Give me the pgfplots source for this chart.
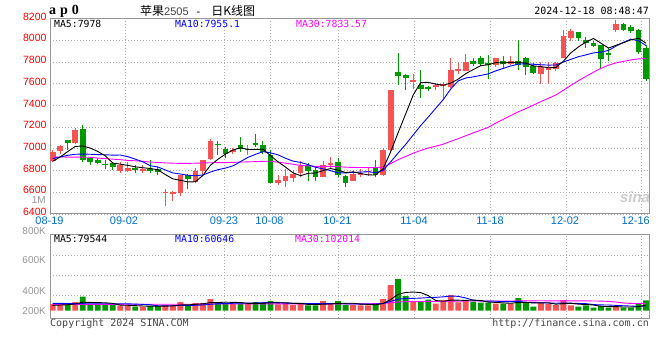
\documentclass[border=0pt]{standalone}
\usepackage{pgfplots}
\pgfplotsset{compat=1.18}
\usepackage{pgfplotstable}
\usepackage{fontspec}
\setmainfont{Liberation Sans}
\newfontfamily\mono{DejaVu Sans Mono}
\newfontfamily\cjk{Noto Sans CJK SC}
\newfontfamily\serifb{Liberation Serif}
\definecolor{cred}{RGB}{246,84,84}
\definecolor{cgreen}{RGB}{0,153,0}
\definecolor{xlab}{RGB}{0,110,200}
\definecolor{gridc}{RGB}{175,175,175}
\definecolor{axc}{RGB}{150,150,150}
\definecolor{ma10}{RGB}{0,0,255}
\definecolor{ma30}{RGB}{255,0,255}
\definecolor{vlab}{RGB}{150,150,150}
\definecolor{copyc}{RGB}{70,70,70}
\newcommand\fs[1]{\fontsize{#1}{#1}\selectfont}
% up candle: idx, open, high, low, close
\newcommand\cu[5]{\addplot[cred, line width=1bp] coordinates {(#1,#4) (#1,#3)};
  \addplot[cred, line width=5.7bp] coordinates {(#1,#2) (#1,#5)};}
% down candle: idx, open, high, low, close
\newcommand\cd[5]{\addplot[cgreen, line width=1bp] coordinates {(#1,#4) (#1,#3)};
  \addplot[cgreen, line width=5.7bp] coordinates {(#1,#2) (#1,#5)};}

\pgfplotstableread{
i m5 m10 m30
0 6885 6910 6925
1 6925 6925 6925
2 6975 6940 6924
3 7022 6950 6924
4 7026 6952 6923
5 7007 6950 6922
6 6976 6947 6915
7 6936 6945 6910
8 6869 6942 6905
9 6859 6943 6900
10 6848 6928 6893
11 6834 6905 6890
12 6826 6881 6885
13 6819 6844 6878
14 6807 6833 6875
15 6763 6805 6870
16 6723 6778 6868
17 6711 6768 6866
18 6695 6757 6866
19 6697 6752 6868
20 6755 6759 6870
21 6849 6786 6872
22 6904 6808 6873
23 6951 6823 6873
24 6989 6843 6875
25 7010 6882 6878
26 6994 6922 6880
27 6994 6949 6882
28 6997 6974 6885
29 6937 6963 6886
30 6881 6945 6877
31 6832 6913 6868
32 6779 6887 6858
33 6753 6875 6847
34 6774 6855 6844
35 6778 6830 6839
36 6799 6816 6839
37 6819 6799 6839
38 6803 6778 6836
39 6782 6778 6831
40 6788 6783 6829
41 6773 6786 6828
42 6760 6789 6828
43 6759 6781 6826
44 6818 6800 6833
45 6972 6880 6864
46 7150 6962 6900
47 7321 7041 6930
48 7496 7128 6960
49 7610 7214 6985
50 7612 7292 7007
51 7596 7373 7024
52 7585 7453 7043
53 7605 7551 7069
54 7642 7626 7094
55 7692 7652 7121
56 7730 7663 7147
57 7766 7676 7172
58 7774 7690 7198
59 7794 7718 7237
60 7791 7741 7272
61 7796 7763 7307
62 7794 7780 7341
63 7791 7783 7371
64 7763 7779 7402
65 7758 7774 7435
66 7746 7771 7465
67 7749 7772 7496
68 7807 7799 7539
69 7884 7824 7585
70 7938 7848 7627
71 7983 7865 7667
72 8016 7883 7705
73 7973 7890 7741
74 7928 7906 7770
75 7953 7946 7791
76 7977 7980 7805
77 8004 8010 7819
78 8018 7995 7828
79 7973 7951 7831
}\maintab

\pgfplotstableread{
i v5 v10 v30
0 80 110 95
1 85 110 95
2 90 108 95
3 100 106 95
4 127 105 95
5 124 105 95
6 121 105 95
7 119 105 95
8 110 105 95
9 83 105 95
10 81 103 97
11 76 99 97
12 71 95 97
13 68 89 97
14 67 75 97
15 68 75 97
16 72 74 97
17 86 79 97
18 87 78 97
19 96 82 97
20 103 86 100
21 122 97 100
22 122 104 100
23 128 108 100
24 125 111 100
25 123 113 100
26 109 116 100
27 109 116 100
28 111 120 101
29 120 123 103
30 118 121 103
31 120 115 103
32 111 110 103
33 108 110 102
34 95 108 98
35 92 105 98
36 98 109 100
37 101 106 100
38 110 109 102
39 111 103 102
40 112 102 103
41 99 99 103
42 95 98 104
43 89 100 106
44 107 109 109
45 167 140 119
46 246 173 132
47 274 185 135
48 280 185 138
49 271 189 138
50 227 197 140
51 153 200 138
52 141 208 139
53 159 220 143
54 158 215 144
55 154 191 145
56 160 157 146
57 152 147 146
58 129 144 146
59 125 142 145
60 117 136 145
61 111 136 145
62 125 139 148
63 125 127 149
64 116 121 148
65 119 118 149
66 119 115 148
67 98 112 148
68 106 116 148
69 110 113 148
70 98 109 147
71 93 106 147
72 85 92 146
73 67 87 144
74 60 85 140
75 62 80 130
76 55 74 115
77 55 70 109
78 61 64 108
79 83 72 109
}\voltab

\begin{document}
\begin{tikzpicture}
\useasboundingbox (0,0) rectangle (660bp,360bp);
\begin{axis}[
  at={(50bp,146bp)}, anchor=south west, scale only axis,
  width=599.3bp, height=195.5bp,
  xmin=-0.36, xmax=79.44, ymin=6400, ymax=8200,
  axis line style={axc, line width=1bp},
  xtick={9.67,22.85,28.93,38.03,48.15,58.32,68.35,78.4}, xticklabels={},
  ytick={6400,6600,6800,7000,7200,7400,7600,7800,8000,8200},
  yticklabels={6400,6600,6800,7000,7200,7400,7600,7800,8000,8200},
  yticklabel style={text=red, font=\fs{10.5bp}, yshift=2bp},
  major tick length=0pt,
  xmajorgrids, ymajorgrids,
  grid style={gridc, line width=0.8bp, dash pattern=on 1bp off 2bp},
]
\cu{0}{6885}{6990}{6875}{6975}
\cu{1}{6980}{7035}{6955}{7030}
\cd{2}{7083}{7085}{6990}{7056}
\cu{3}{7050}{7190}{7045}{7173}
\cd{4}{7178}{7222}{6880}{6898}
\cd{5}{6914}{6918}{6848}{6880}
\cd{6}{6893}{6915}{6857}{6872}
\cd{7}{6864}{6893}{6815}{6856}
\cd{8}{6872}{6878}{6803}{6836}
\cu{9}{6794}{6878}{6779}{6848}
\cu{10}{6795}{6878}{6785}{6824}
\cd{11}{6827}{6848}{6773}{6803}
\cu{12}{6795}{6850}{6780}{6818}
\cd{13}{6815}{6898}{6775}{6800}
\cd{14}{6815}{6835}{6755}{6790}
\cu{15}{6596}{6630}{6477}{6605}
\cu{16}{6588}{6615}{6523}{6603}
\cu{17}{6594}{6762}{6562}{6759}
\cd{18}{6759}{6765}{6633}{6720}
\cu{19}{6698}{6820}{6690}{6800}
\cu{20}{6797}{6898}{6752}{6893}
\cu{21}{6902}{7090}{6893}{7074}
\cd{22}{7044}{7075}{6944}{7034}
\cd{23}{7002}{7020}{6915}{6955}
\cu{24}{6970}{7005}{6953}{6990}
\cd{25}{7038}{7110}{6969}{6996}
\cu{26}{6985}{7038}{6944}{6995}
\cd{27}{7050}{7140}{7020}{7034}
\cd{28}{7038}{7068}{6950}{6970}
\cd{29}{6944}{6990}{6685}{6690}
\cu{30}{6690}{6755}{6671}{6716}
\cu{31}{6704}{6812}{6653}{6752}
\cu{32}{6728}{6805}{6698}{6767}
\cu{33}{6775}{6886}{6740}{6840}
\cd{34}{6852}{6871}{6701}{6794}
\cd{35}{6806}{6837}{6701}{6738}
\cu{36}{6745}{6892}{6740}{6855}
\cu{37}{6855}{6929}{6815}{6866}
\cd{38}{6883}{6911}{6738}{6760}
\cd{39}{6754}{6763}{6646}{6690}
\cu{40}{6708}{6794}{6705}{6769}
\cu{41}{6763}{6815}{6738}{6782}
\cu{42}{6785}{6831}{6754}{6800}
\cd{43}{6831}{6900}{6738}{6755}
\cu{44}{6763}{7006}{6750}{6985}
\cu{45}{6985}{7540}{6980}{7538}
\cd{46}{7708}{7883}{7591}{7671}
\cd{47}{7677}{7690}{7538}{7655}
\cu{48}{7615}{7686}{7554}{7631}
\cd{49}{7591}{7729}{7468}{7554}
\cd{50}{7569}{7582}{7532}{7551}
\cu{51}{7569}{7606}{7545}{7591}
\cu{52}{7575}{7615}{7446}{7600}
\cu{53}{7569}{7837}{7560}{7729}
\cu{54}{7714}{7794}{7692}{7738}
\cu{55}{7717}{7877}{7714}{7800}
\cd{56}{7812}{7840}{7760}{7785}
\cd{57}{7834}{7858}{7763}{7778}
\cd{58}{7791}{7860}{7646}{7770}
\cu{59}{7769}{7840}{7754}{7837}
\cd{60}{7806}{7852}{7738}{7785}
\cu{61}{7785}{7855}{7769}{7809}
\cd{62}{7806}{8000}{7723}{7770}
\cd{63}{7837}{7846}{7677}{7754}
\cd{64}{7760}{7791}{7690}{7698}
\cu{65}{7692}{7800}{7594}{7757}
\cu{66}{7730}{7800}{7600}{7750}
\cu{67}{7732}{7800}{7720}{7788}
\cu{68}{7840}{8095}{7835}{8040}
\cu{69}{8025}{8100}{7994}{8086}
\cd{70}{8077}{8080}{7994}{8025}
\cd{71}{8003}{8034}{7932}{7978}
\cd{72}{7972}{7994}{7938}{7950}
\cd{73}{7954}{7960}{7742}{7825}
\cd{74}{7886}{7932}{7809}{7862}
\cu{75}{8095}{8188}{8077}{8151}
\cd{76}{8151}{8157}{8086}{8095}
\cd{77}{8123}{8142}{8065}{8086}
\cd{78}{8095}{8100}{7877}{7895}
\cd{79}{7929}{7960}{7625}{7640}
\addplot[ma30, line width=0.9bp] table[x=i, y=m30] {\maintab};
\addplot[ma10, line width=0.9bp] table[x=i, y=m10] {\maintab};
\addplot[black, line width=0.9bp] table[x=i, y=m5] {\maintab};
\end{axis}

\begin{axis}[
  at={(50bp,41.7bp)}, anchor=south west, scale only axis,
  width=599.3bp, height=84bp,
  xmin=-0.36, xmax=79.44, ymin=-114, ymax=1146,
  axis line style={axc, line width=1bp},
  xtick={9.67,22.85,28.93,38.03,48.15,58.32,68.35,78.4}, xticklabels={},
  ytick={225,531,831}, yticklabels={},
  major tick length=0pt,
  xmajorgrids, ymajorgrids,
  grid style={gridc, line width=0.8bp, dash pattern=on 1bp off 2bp},
]
\addplot[ybar, bar width=0.78, bar shift=0pt, fill=cred, draw=none] coordinates {
(0,100) (1,100) (3,130) (9,75) (10,75) (12,60) (15,80) (16,80) (17,130) (19,115)
(20,115) (21,175) (24,100) (26,105) (30,95) (31,115) (32,85) (33,100) (36,145) (37,100)
(40,85) (41,80) (42,80) (44,175) (45,385) (48,145) (51,105) (52,160) (53,235) (54,125)
(55,145) (59,105) (61,105) (65,120) (66,105) (67,85) (68,160) (69,80) (75,70)};
\addplot[ybar, bar width=0.78, bar shift=0pt, fill=cgreen, draw=none] coordinates {
(2,95) (4,210) (5,85) (6,85) (7,85) (8,85) (11,60) (13,70) (14,70) (18,75)
(22,130) (23,105) (25,105) (27,130) (28,115) (29,145) (34,80) (35,80) (38,145) (39,85)
(43,115) (46,475) (47,220) (49,130) (50,165) (56,135) (57,120) (58,120) (60,105) (62,190)
(63,120) (64,60) (70,60) (71,80) (72,45) (73,70) (74,45) (76,45) (77,45) (78,100) (79,155)};
\addplot[ma30, line width=0.9bp] table[x=i, y=v30] {\voltab};
\addplot[ma10, line width=0.9bp] table[x=i, y=v10] {\voltab};
\addplot[black, line width=0.9bp] table[x=i, y=v5] {\voltab};
\end{axis}

% header
\node[anchor=west, inner sep=0] at (49bp,349bp) {\serifb\bfseries\fs{14bp}a\hspace{4bp}p\hspace{4bp}0};
\node[anchor=west, inner sep=0] at (140bp,349bp) {{\cjk\fs{12bp}苹果}{\fs{11bp}\color{darkgray}2505}\hspace{8bp}{\fs{11bp}-}\hspace{11bp}{\cjk\fs{12bp}日K线图}};
\node[anchor=east, inner sep=0] at (649bp,349bp) {\mono\fs{10bp}2024-12-18 08:48:47};
% MA labels main
\node[anchor=west, inner sep=0] at (54bp,336bp) {\mono\fs{9.8bp}MA5:7978};
\node[anchor=west, inner sep=0] at (175bp,336bp) {\mono\fs{9.8bp}\color{ma10}MA10:7955.1};
\node[anchor=west, inner sep=0] at (296bp,336bp) {\mono\fs{9.8bp}\color{ma30}MA30:7833.57};
\node[anchor=east, inner sep=0] at (46bp,159.5bp) {\fs{10bp}\color{vlab}1M};
% x labels
\foreach \x/\t in {49.5/08-19, 124/09-02, 224/09-23, 269.5/10-08, 337.5/10-21, 414/11-04, 490/11-18, 565/12-02}
  \node[inner sep=0] at (\x bp,139bp) {\fs{11bp}\color{xlab}\t};
\node[anchor=east, inner sep=0] at (650bp,139bp) {\fs{11bp}\color{xlab}12-16};
% sina watermark
\node[inner sep=0] at (635bp,163bp) {\fs{15bp}\bfseries\itshape\color{black!20}sina};
% volume labels
\node[anchor=east, inner sep=0] at (46bp,129.3bp) {\fs{10bp}\color{vlab}800K};
\node[anchor=east, inner sep=0] at (46bp,100bp) {\fs{10bp}\color{vlab}600K};
\node[anchor=east, inner sep=0] at (46bp,69.3bp) {\fs{10bp}\color{vlab}400K};
\node[anchor=east, inner sep=0] at (46bp,49.3bp) {\fs{10bp}\color{vlab}200K};
\node[anchor=west, inner sep=0] at (54bp,121bp) {\mono\fs{9.8bp}MA5:79544};
\node[anchor=west, inner sep=0] at (175bp,121bp) {\mono\fs{9.8bp}\color{ma10}MA10:60646};
\node[anchor=west, inner sep=0] at (295bp,121bp) {\mono\fs{9.8bp}\color{ma30}MA30:102014};
% footer
\node[anchor=west, inner sep=0] at (50bp,36bp) {\mono\fs{10bp}\color{copyc}Copyright 2024 SINA.COM};
\node[anchor=east, inner sep=0] at (649bp,36bp) {\mono\fs{10bp}\color{copyc}http://finance.sina.com.cn};
\end{tikzpicture}
\end{document}
